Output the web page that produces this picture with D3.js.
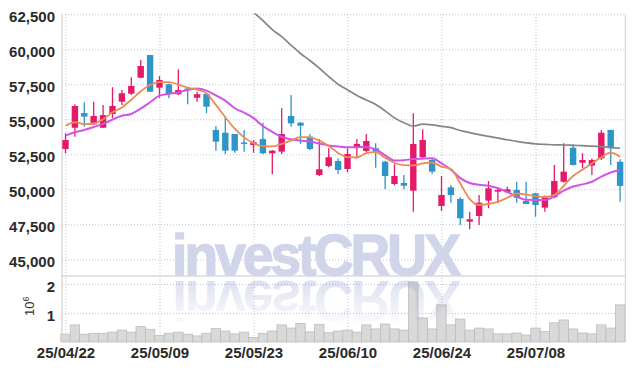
<!DOCTYPE html>
<html>
<head>
<meta charset="utf-8">
<script src="https://cdn.jsdelivr.net/npm/d3@7"></script>
<style>
body { margin: 0; background: #fff; }
.tickLabel text { font-family: "Liberation Sans Narrow", "Liberation Sans", Arial, sans-serif; font-weight: bold; font-size: 15px; fill: #2a2a2a; }
.grid line { stroke: #bfc3d6; stroke-dasharray: 1,2; }
.grid path { display: none; }
</style>
</head>
<body>
<div id="chart"></div>
<script>

// trading days (yy/mm/dd)
var dates = ["25/04/22","25/04/23","25/04/24","25/04/25","25/04/28","25/04/29","25/04/30","25/05/02","25/05/07","25/05/08",
    "25/05/09","25/05/12","25/05/13","25/05/14","25/05/15","25/05/16","25/05/19","25/05/20","25/05/21","25/05/22",
    "25/05/23","25/05/26","25/05/27","25/05/28","25/05/29","25/05/30","25/06/02","25/06/04","25/06/05","25/06/09",
    "25/06/10","25/06/11","25/06/12","25/06/13","25/06/16","25/06/17","25/06/18","25/06/19","25/06/20","25/06/23",
    "25/06/24","25/06/25","25/06/26","25/06/27","25/06/30","25/07/01","25/07/02","25/07/03","25/07/04","25/07/07",
    "25/07/08","25/07/09","25/07/10","25/07/11","25/07/14","25/07/15","25/07/16","25/07/17","25/07/18","25/07/21"];

var opens  = [52880,54400,55450,54640,54400,55380,56260,56830,57970,59590,
    57260,57500,56790,57200,56540,56810,54240,54040,53950,53350,
    53160,53590,52570,52690,55240,54760,53760,51020,51660,52020,
    51450,52970,52740,52930,51970,50380,50450,49900,52290,52090,
    48810,50140,49310,47690,48090,49190,49830,49790,49950,49160,
    49710,48690,49430,50540,52970,51900,51690,52210,54240,51970];
var highs  = [54000,56070,56210,56260,56020,57290,57090,58000,59240,59590,
    58100,57550,58570,57250,56970,56850,54520,55190,53950,54240,
    53520,54760,52800,55790,56740,54800,53950,53570,52930,52210,
    52930,53590,53950,53290,52040,51790,51020,55430,54290,52210,
    50950,50310,49430,48400,49590,50590,50140,50190,50540,50540,
    49750,49550,51740,53290,53210,52570,52200,54240,54250,52140];
var lows   = [52570,53760,54470,54590,54400,55070,56020,56740,57930,56970,
    56540,56500,56740,56070,56260,55430,52760,52520,52610,52690,
    52610,52520,51070,52520,54470,53240,52810,50950,51570,51090,
    51210,52210,52640,51540,50000,50290,50000,48400,52210,51090,
    48450,49040,47450,47140,47450,48640,49040,49710,49040,48950,
    48040,48400,49360,50470,51700,51500,51020,52090,51740,49110];
var closes = [53520,55950,55190,55240,55300,55950,56860,57380,58810,56970,
    57810,56810,57090,57150,56790,55900,53400,52760,52760,53300,
    53360,52570,52760,53950,54710,54540,52880,51430,52290,51380,
    52520,53240,53450,52690,50950,50950,50260,53240,53520,51260,
    49590,49590,47930,47860,49040,50070,49950,50000,49400,48950,
    48880,49470,50590,51260,51740,52090,52090,54040,52930,50240];

// moving averages
var maShort = [54540,54790,54660,54700,55000,55500,55850,56400,57000,57450,
    57650,57650,57480,57260,57120,56850,56030,55150,54330,53710,
    53290,53080,53060,53250,53480,53730,53710,53480,53100,52600,
    52300,52270,52580,52650,52250,51880,51720,51700,51850,51900,
    51620,51450,50420,49300,48880,48950,49100,49400,49700,49620,
    49520,49450,49600,50250,50950,51400,51850,52300,52620,52330];
var maMid = [53830,54070,54240,54450,54670,54980,55250,55380,55760,56220,
    56690,56820,56920,57100,57200,57050,56700,56330,55790,55470,
    55080,54520,54100,53740,53570,53480,53420,53270,53130,53050,
    53000,53010,53030,52850,52430,52050,52080,52160,52190,52210,
    51860,51400,50800,50450,50320,50260,50080,49820,49480,49250,
    49240,49240,49500,49900,50200,50350,50540,50900,51200,51380];
var maLong = [null,null,null,null,null,null,null,null,null,null,
    null,null,null,null,null,null,null,null,63750,63200,
    62650,62050,61400,60900,60300,59700,59200,58650,58050,57500,
    57100,56700,56380,56050,55600,55100,54750,54520,54650,54600,
    54500,54400,54200,54050,53900,53780,53650,53540,53420,53320,
    53240,53210,53180,53165,53140,53115,53090,53050,53000,52930];

var volumes = [270000,590000,270000,300000,300000,340000,410000,340000,530000,440000,
    230000,300000,340000,270000,210000,300000,470000,380000,280000,340000,
    160000,300000,380000,590000,480000,640000,350000,610000,320000,380000,
    410000,340000,590000,450000,620000,450000,410000,2070000,830000,450000,
    1280000,590000,790000,410000,480000,450000,280000,280000,310000,240000,
    480000,360000,660000,760000,450000,310000,280000,590000,480000,1280000];

var priceTicks = [45000, 47500, 50000, 52500, 55000, 57500, 60000, 62500];
var volumeTicks = [1000000, 2000000];
var dateTicks = ["25/04/22","25/05/09","25/05/23","25/06/10","25/06/24","25/07/08"];

var vis = {};
vis.left = 62; vis.right = 625.3;
vis.priceTop = 14.3; vis.priceBottom = 276;
vis.volTop = 276; vis.volBottom = 342;
vis.w = vis.right - vis.left;

vis.svg = d3.select("#chart").append("svg")
    .attr("width", 634)
    .attr("height", 370)
    .style("font-family", "Liberation Sans, Arial, sans-serif");

// scales
vis.x = d3.scalePoint().domain(dates).range([65.5, 620.1]);
vis.step = vis.x.step();
vis.y = d3.scaleLinear().domain([43807, 62500]).range([vis.priceBottom, vis.priceTop]);
vis.yv = d3.scaleLinear().domain([0, 2276000]).range([vis.volBottom, vis.volTop]);

// clip for price pane
var defs = vis.svg.append("defs");
defs.append("clipPath").attr("id", "clipPrice")
    .append("rect")
    .attr("x", vis.left).attr("y", vis.priceTop - 1)
    .attr("width", vis.w).attr("height", vis.priceBottom - vis.priceTop + 1);

var grad = defs.append("linearGradient").attr("id", "reflect")
    .attr("gradientUnits", "userSpaceOnUse")
    .attr("x1", 0).attr("x2", 0).attr("y1", 276).attr("y2", 236);
grad.append("stop").attr("offset", 0).attr("stop-color", "#8c96c8").attr("stop-opacity", 0.3);
grad.append("stop").attr("offset", 1).attr("stop-color", "#8c96c8").attr("stop-opacity", 0.05);

// grid lines
vis.svg.append("g")
    .attr("class", "grid")
    .attr("transform", "translate(" + vis.left + ",0)")
    .call(d3.axisLeft(vis.y).tickValues(priceTicks).tickSize(-vis.w).tickFormat(""));
vis.svg.append("g")
    .attr("class", "grid")
    .attr("transform", "translate(" + vis.left + ",0)")
    .call(d3.axisLeft(vis.yv).tickValues(volumeTicks).tickSize(-vis.w).tickFormat(""));
vis.svg.append("g")
    .attr("class", "grid")
    .attr("transform", "translate(0," + vis.volBottom + ")")
    .call(d3.axisBottom(vis.x).tickValues(dateTicks).tickSize(-(vis.volBottom - vis.priceTop)).tickFormat(""));

// frame
vis.svg.append("line").attr("x1", vis.left).attr("x2", vis.left)
    .attr("y1", vis.priceTop).attr("y2", vis.volBottom).style("stroke", "#c8c8c8");
vis.svg.append("line").attr("x1", vis.right).attr("x2", vis.right)
    .attr("y1", vis.priceTop).attr("y2", vis.volBottom).style("stroke", "#d0d0d0");
vis.svg.append("line").attr("x1", vis.left).attr("x2", vis.right)
    .attr("y1", vis.volTop).attr("y2", vis.volTop).style("stroke", "#c8c8d0");

// watermark (opaque) behind the marks
vis.svg.append("text")
    .attr("x", 172).attr("y", 275)
    .attr("textLength", 286).attr("lengthAdjust", "spacingAndGlyphs")
    .style("font-family", "Liberation Sans, Arial, sans-serif")
    .style("font-weight", "bold").style("font-size", "58px")
    .style("letter-spacing", "-3px")
    .style("fill", "#d0d5e9").style("stroke", "#d0d5e9").style("stroke-width", 1.5)
    .text("investCRUX");

// volume bars
vis.svg.selectAll(".vol")
    .data(volumes)
    .enter()
    .append("rect")
    .attr("class", "vol")
    .attr("x", function(d, i) { return vis.x(dates[i]) - vis.step / 2; })
    .attr("y", function(d) { return vis.yv(d); })
    .attr("width", vis.step)
    .attr("height", function(d) { return vis.volBottom - vis.yv(d); })
    .style("fill", "#d9d9d9")
    .style("stroke", "#bdbdbd")
    .style("stroke-width", 0.8);

// reflection of the watermark, over the bars
vis.svg.append("g")
    .attr("transform", "translate(0,556) scale(1,-1)")
    .append("text")
    .attr("x", 172).attr("y", 275)
    .attr("textLength", 286).attr("lengthAdjust", "spacingAndGlyphs")
    .style("font-family", "Liberation Sans, Arial, sans-serif")
    .style("font-weight", "bold").style("font-size", "58px")
    .style("letter-spacing", "-3px")
    .style("fill", "url(#reflect)")
    .text("investCRUX");

// candles
var candles = dates.map(function(d, i) {
    return {date: d, o: opens[i], h: highs[i], l: lows[i], c: closes[i]};
});
var cg = vis.svg.append("g").attr("clip-path", "url(#clipPrice)");
var colorOf = function(d) { return d.c >= d.o ? "#e5196a" : "#2e95c8"; };

cg.selectAll(".wick")
    .data(candles)
    .enter()
    .append("line")
    .attr("class", "wick")
    .attr("x1", function(d) { return vis.x(d.date); })
    .attr("x2", function(d) { return vis.x(d.date); })
    .attr("y1", function(d) { return vis.y(d.h); })
    .attr("y2", function(d) { return vis.y(d.l); })
    .style("stroke", colorOf)
    .style("stroke-width", 1.3);

cg.selectAll(".body")
    .data(candles)
    .enter()
    .append("rect")
    .attr("class", "body")
    .attr("x", function(d) { return vis.x(d.date) - 3.2; })
    .attr("width", 6.4)
    .attr("y", function(d) { return vis.y(Math.max(d.o, d.c)); })
    .attr("height", function(d) { return Math.max(1.5, Math.abs(vis.y(d.o) - vis.y(d.c))); })
    .style("fill", colorOf);

// moving average lines
vis.line = d3.line()
    .defined(function(d) { return d != null; })
    .curve(d3.curveMonotoneX)
    .x(function(d, i) { return vis.x(dates[i]); })
    .y(function(d) { return vis.y(d); });

cg.append("path").datum(maLong).attr("d", vis.line)
    .style("fill", "none").style("stroke", "#858585").style("stroke-width", 1.7);
cg.append("path").datum(maMid).attr("d", vis.line)
    .style("fill", "none").style("stroke", "#cf55ea").style("stroke-width", 2);
cg.append("path").datum(maShort).attr("d", vis.line)
    .style("fill", "none").style("stroke", "#ef8a52").style("stroke-width", 1.8);

// axis labels
var yAxis = vis.svg.append("g")
    .attr("class", "tickLabel")
    .attr("transform", "translate(" + vis.left + ",0)")
    .call(d3.axisLeft(vis.y).tickValues(priceTicks).tickSize(0).tickPadding(7).tickFormat(d3.format(",")));
yAxis.select(".domain").remove();
yAxis.selectAll("text").attr("dy", "0.5em");

var vAxis = vis.svg.append("g")
    .attr("class", "tickLabel")
    .attr("transform", "translate(" + vis.left + ",0)")
    .call(d3.axisLeft(vis.yv).tickValues(volumeTicks).tickSize(0).tickPadding(7)
        .tickFormat(function(d) { return d / 1e6; }));
vAxis.select(".domain").remove();
vAxis.selectAll("text").attr("dy", "0.5em");

var xAxis = vis.svg.append("g")
    .attr("class", "tickLabel")
    .attr("transform", "translate(0," + vis.volBottom + ")")
    .call(d3.axisBottom(vis.x).tickValues(dateTicks).tickSize(0));
xAxis.select(".domain").remove();
xAxis.selectAll("text").attr("y", 15.5).attr("dy", 0);

// 10^6 unit label
var unit = vis.svg.append("text")
    .attr("transform", "translate(34,316) rotate(-90)")
    .style("font-size", "13px").style("fill", "#333");
unit.append("tspan").text("10");
unit.append("tspan").attr("dy", -5).style("font-size", "9px").text("6");

</script>
</body>
</html>
